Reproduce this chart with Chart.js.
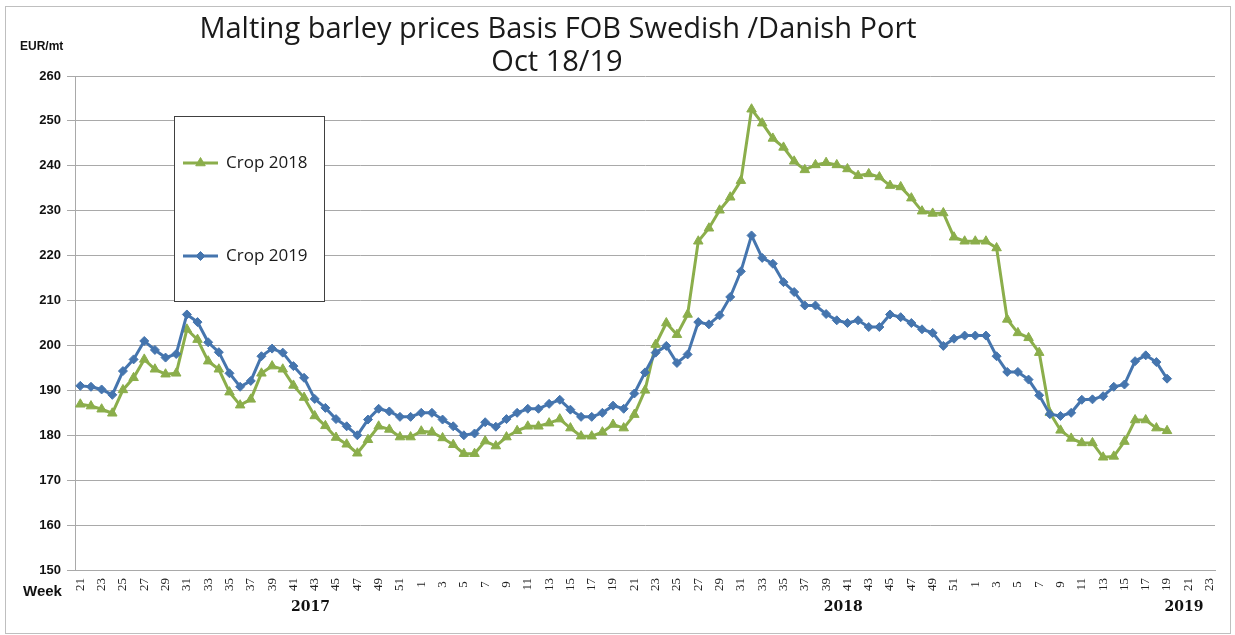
<!DOCTYPE html>
<html>
<head>
<meta charset="utf-8">
<script src="https://cdn.jsdelivr.net/npm/chart.js@4.4.1/dist/chart.umd.min.js"></script>
<style>
  html, body { margin: 0; padding: 0; background: #ffffff; }
  #wrap { position: relative; width: 1235px; height: 635px; }
  canvas { display: block; }
</style>
</head>
<body>
<div id="wrap"><canvas id="c" width="1235" height="635"></canvas></div>
<script>
// ---- Data ----
const weeks2017 = ['21','22','23','24','25','26','27','28','29','30','31','32','33','34','35','36','37','38','39','40','41','42','43','44','45','46','47','48','49','50','51','52'];
const weeks2018 = ['1','2','3','4','5','6','7','8','9','10','11','12','13','14','15','16','17','18','19','20','21','22','23','24','25','26','27','28','29','30','31','32','33','34','35','36','37','38','39','40','41','42','43','44','45','46','47','48','49','50','51','52'];
const weeks2019 = ['1','2','3','4','5','6','7','8','9','10','11','12','13','14','15','16','17','18','19','20','21','22','23'];
const yearLabels = ['2017', '2018', '2019'];
const yTicks = [150, 160, 170, 180, 190, 200, 210, 220, 230, 240, 250, 260];

const crop2018 = [
  186.9, 186.5, 185.8, 184.9, 190.1, 192.8, 196.9, 194.7, 193.6, 193.8,
  203.6, 201.3, 196.5, 194.7, 189.6, 186.7, 188.0, 193.8, 195.4, 194.7,
  191.1, 188.4, 184.3, 182.1, 179.5, 178.0, 176.0, 179.0, 182.0, 181.3,
  179.6, 179.6, 180.9, 180.7, 179.4, 177.9, 175.9, 175.9, 178.7, 177.6,
  179.6, 181.0, 182.0, 182.0, 182.7, 183.6, 181.6, 179.8, 179.8, 180.7,
  182.4, 181.6, 184.6, 190.0, 200.2, 205.0, 202.4, 206.9, 223.2, 226.1,
  230.1, 233.0, 236.7, 252.6, 249.5, 246.1, 244.1, 241.0, 239.1, 240.2,
  240.7, 240.2, 239.3, 237.8, 238.2, 237.5, 235.6, 235.3, 232.8, 229.9,
  229.4, 229.5, 224.1, 223.2, 223.2, 223.2, 221.7, 205.8, 202.8, 201.7,
  198.4, 185.0, 181.1, 179.3, 178.3, 178.3, 175.1, 175.3, 178.6, 183.4,
  183.4, 181.6, 181.0
];
const crop2019 = [
  191.0, 190.8, 190.2, 189.0, 194.3, 196.9, 201.0, 199.0, 197.3, 198.1,
  206.9, 205.2, 200.7, 198.5, 193.8, 190.8, 192.1, 197.6, 199.3, 198.4,
  195.4, 192.8, 188.1, 186.1, 183.6, 182.0, 180.0, 183.5, 185.9, 185.3,
  184.1, 184.1, 185.0, 185.0, 183.5, 182.0, 180.0, 180.4, 182.9, 181.9,
  183.6, 185.0, 185.9, 185.9, 187.0, 187.9, 185.7, 184.1, 184.1, 185.0,
  186.6, 185.9, 189.3, 194.0, 198.4, 199.9, 196.1, 198.0, 205.2, 204.7,
  206.7, 210.8, 216.5, 224.5, 219.5, 218.2, 214.1, 211.9, 208.9, 208.9,
  207.0, 205.6, 205.0, 205.6, 204.1, 204.1, 206.9, 206.3, 205.0, 203.6,
  202.8, 199.9, 201.5, 202.2, 202.2, 202.2, 197.6, 194.1, 194.1, 192.4,
  188.9, 184.7, 184.3, 185.0, 187.9, 188.0, 188.7, 190.8, 191.3, 196.5,
  197.8, 196.3, 192.6
];

const categories = weeks2017.concat(weeks2018, weeks2019);

// ---- Styling ----
const GREEN = '#8bae4b';
const BLUE = '#4575ae';
const GRID = '#a9a9a9';

const decor = {
  id: 'decor',
  afterDraw(chart) {
    const ctx = chart.ctx;
    const xs = chart.scales.x;
    ctx.save();
    // outer frame
    ctx.strokeStyle = '#bfbfbf';
    ctx.lineWidth = 1;
    ctx.strokeRect(5.5, 6.5, 1225, 627);

    // title
    ctx.fillStyle = '#1a1a1a';
    ctx.textAlign = 'center';
    ctx.textBaseline = 'alphabetic';
    ctx.font = '29px "Open Sans"';
    ctx.fillText('Malting barley prices Basis FOB Swedish /Danish Port', 558, 38);
    ctx.fillText('Oct 18/19', 557, 71);

    // axis captions
    ctx.font = 'bold 12px "Liberation Sans"';
    ctx.textAlign = 'left';
    ctx.fillStyle = '#111';
    ctx.fillText('EUR/mt', 20, 50);
    ctx.font = 'bold 15px "Liberation Sans"';
    ctx.fillText('Week', 23, 596);

    // year labels
    ctx.font = 'bold 14px "DejaVu Serif"';
    ctx.textAlign = 'center';
    const yearPos = [21.6, 71.6, 103.6];
    yearLabels.forEach((y, k) => {
      ctx.fillText(y, xs.getPixelForValue(yearPos[k]), 611);
    });

    // legend box
    ctx.fillStyle = '#ffffff';
    ctx.fillRect(174, 116, 151, 185);
    ctx.strokeStyle = '#404040';
    ctx.lineWidth = 1;
    ctx.strokeRect(174.5, 116.5, 150, 185);
    const entries = [
      { label: chart.data.datasets[0].label, color: GREEN, style: 'triangle', r: 5.5, y: 163 },
      { label: chart.data.datasets[1].label, color: BLUE, style: 'rectRot', r: 4.5, y: 256 }
    ];
    entries.forEach(e => {
      ctx.strokeStyle = e.color;
      ctx.lineWidth = 3;
      ctx.beginPath();
      ctx.moveTo(183, e.y);
      ctx.lineTo(218, e.y);
      ctx.stroke();
      ctx.fillStyle = e.color;
      ctx.lineWidth = 1;
      Chart.helpers.drawPoint(ctx, { pointStyle: e.style, radius: e.r, borderWidth: 1 }, 200.5, e.y);
      ctx.fillStyle = '#1a1a1a';
      ctx.font = '17px "Open Sans"';
      ctx.textAlign = 'left';
      ctx.textBaseline = 'middle';
      ctx.fillText(e.label, 226, e.y);
    });
    ctx.restore();
  }
};

new Chart(document.getElementById('c'), {
  type: 'line',
  data: {
    labels: categories,
    datasets: [
      {
        label: 'Crop 2018',
        data: crop2018,
        borderColor: GREEN,
        backgroundColor: GREEN,
        borderWidth: 3,
        pointStyle: 'triangle',
        pointRadius: 5.5,
        pointBorderWidth: 1,
        pointBackgroundColor: GREEN,
        pointBorderColor: GREEN,
        tension: 0,
        order: 2
      },
      {
        label: 'Crop 2019',
        data: crop2019,
        borderColor: BLUE,
        backgroundColor: BLUE,
        borderWidth: 3,
        pointStyle: 'rectRot',
        pointRadius: 4.5,
        pointBorderWidth: 1,
        pointBackgroundColor: BLUE,
        pointBorderColor: BLUE,
        tension: 0,
        order: 1
      }
    ]
  },
  options: {
    responsive: false,
    animation: false,
    devicePixelRatio: 1,
    layout: { padding: { top: 76, right: 20, left: 0, bottom: 0 } },
    plugins: {
      legend: { display: false },
      title: { display: false },
      tooltip: { enabled: false }
    },
    events: [],
    scales: {
      x: {
        type: 'category',
        offset: true,
        grid: { display: false, drawTicks: false },
        border: { display: true, color: GRID, width: 1 },
        ticks: {
          autoSkip: false,
          maxRotation: 90,
          minRotation: 90,
          padding: 8,
          color: '#222',
          font: { family: '"Liberation Serif"', size: 13 },
          callback: function (value, index) {
            if (index % 2 !== 0) return '';
            const lab = categories[index];
            return lab.length === 1 ? lab + '\u2005' : lab;
          }
        },
        afterFit: function (scale) { scale.height = 65; }
      },
      y: {
        min: yTicks[0],
        max: yTicks[yTicks.length - 1],
        afterBuildTicks: function (scale) { scale.ticks = yTicks.map(v => ({ value: v })); },
        grid: { color: GRID, lineWidth: 1, drawTicks: true, tickLength: 8 },
        border: { display: true, color: GRID, width: 1 },
        ticks: {
          padding: 6,
          color: '#111',
          font: { family: '"Liberation Sans"', size: 13, weight: 'bold' }
        },
        afterFit: function (scale) { scale.width = 75; }
      }
    }
  },
  plugins: [decor]
});
</script>
</body>
</html>
